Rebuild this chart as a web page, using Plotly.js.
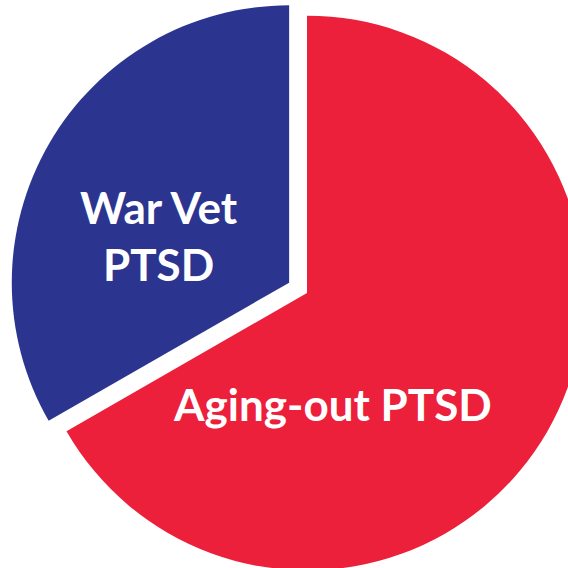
<!DOCTYPE html>
<html>
<head>
<meta charset="utf-8">
<script src="https://cdn.plot.ly/plotly-3.0.1.min.js"></script>
<style>
html, body { margin: 0; padding: 0; width: 568px; height: 568px; overflow: hidden; background: #fff; }
#chart { position: absolute; left: 0; top: -5px; width: 614px; height: 596px; }
</style>
</head>
<body>
<div id="chart"></div>
<script>
var labels = ["Aging-out PTSD", "War Vet<br>PTSD"];
var values = [66.7, 33.3];
var colors = ["#EC203A", "#2B358F"];
var pulls = [0, 0.0744];
var labelX = [0.542, 0.259];
var labelY = [0.314, 0.596];

var data = [{
  type: "pie",
  labels: labels,
  values: values,
  sort: false,
  direction: "clockwise",
  rotation: 0,
  pull: pulls,
  marker: { colors: colors, line: { width: 0 } },
  textinfo: "none",
  hoverinfo: "none",
  showlegend: false
}];

var annotations = labels.map(function (t, i) {
  return {
    text: t, xref: "paper", yref: "paper",
    x: labelX[i], y: labelY[i],
    xanchor: "center", yanchor: "middle",
    showarrow: false,
    font: { family: "Lato, 'Open Sans', sans-serif", size: 44, color: "#ffffff", weight: "bold" }
  };
});

var layout = {
  width: 614,
  height: 596,
  margin: { l: 0, r: 0, t: 0, b: 0 },
  paper_bgcolor: "#ffffff",
  showlegend: false,
  annotations: annotations
};

Plotly.newPlot("chart", data, layout, { staticPlot: true, displayModeBar: false });
</script>
</body>
</html>
